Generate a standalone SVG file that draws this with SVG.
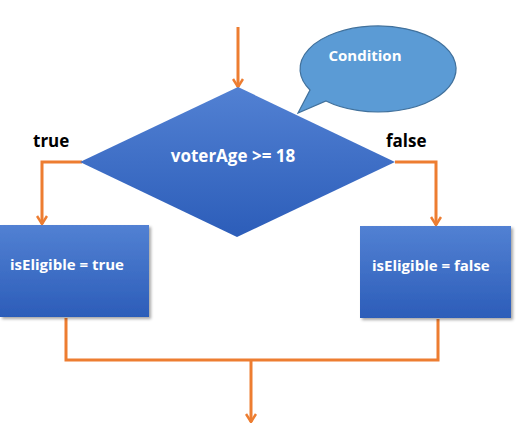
<svg xmlns="http://www.w3.org/2000/svg" width="519" height="431" viewBox="0 0 519 431">
<style>
.conn{fill:none;stroke:#ED7D31;stroke-width:3}
.wt{fill:#fff;font-family:"Open Sans","Liberation Sans",sans-serif;font-weight:bold}
.bt{fill:#000;font-family:"Open Sans","Liberation Sans",sans-serif;font-weight:bold;font-size:17px}
</style>
<defs>
<linearGradient id="g" x1="0" y1="0" x2="0" y2="1">
<stop offset="0" stop-color="#5281D3"/>
<stop offset="1" stop-color="#2C5DB9"/>
</linearGradient>
<filter id="sh" x="-10%" y="-10%" width="130%" height="130%">
<feDropShadow dx="2" dy="2" stdDeviation="1.5" flood-color="#000" flood-opacity="0.35"/>
</filter>
<marker id="ah" viewBox="0 0 12 12" refX="11" refY="6" markerWidth="12" markerHeight="12" markerUnits="userSpaceOnUse" orient="auto">
<path d="M3,1 L11,6 L3,11" fill="none" stroke="#ED7D31" stroke-width="2.5"/>
</marker>
</defs>
<g id="connectors">
<path class="conn" d="M238,27 V87" marker-end="url(#ah)"/>
<path class="conn" d="M82,162 H42 V224" marker-end="url(#ah)"/>
<path class="conn" d="M395,162 H436 V225" marker-end="url(#ah)"/>
<path class="conn" d="M66,318 V360 H438 V319"/>
<path class="conn" d="M251,360 V422" marker-end="url(#ah)"/>
</g>
<g id="callout">
<path d="M298,113 L310,90 A78,43 0 1 1 326,101 Z" fill="#5B9BD5" stroke="#41719C" stroke-width="1.2"/>
<text class="wt" x="365" y="61" font-size="15" text-anchor="middle">Condition</text>
</g>
<g id="decision">
<polygon points="238,87 395,162 237,237 80,162" fill="url(#g)"/>
<text class="wt" x="233" y="162" font-size="17" text-anchor="middle">voterAge &gt;= 18</text>
</g>
<g id="label-true"><text class="bt" x="33" y="147">true</text></g>
<g id="label-false"><text class="bt" x="386" y="147">false</text></g>
<g id="box-true">
<rect x="0" y="225" width="149" height="92" fill="url(#g)" filter="url(#sh)"/>
<text class="wt" x="10" y="270" font-size="15">isEligible = true</text>
</g>
<g id="box-false">
<rect x="360" y="226" width="151" height="92" fill="url(#g)" filter="url(#sh)"/>
<text class="wt" x="372" y="271" font-size="15">isEligible = false</text>
</g>
</svg>
